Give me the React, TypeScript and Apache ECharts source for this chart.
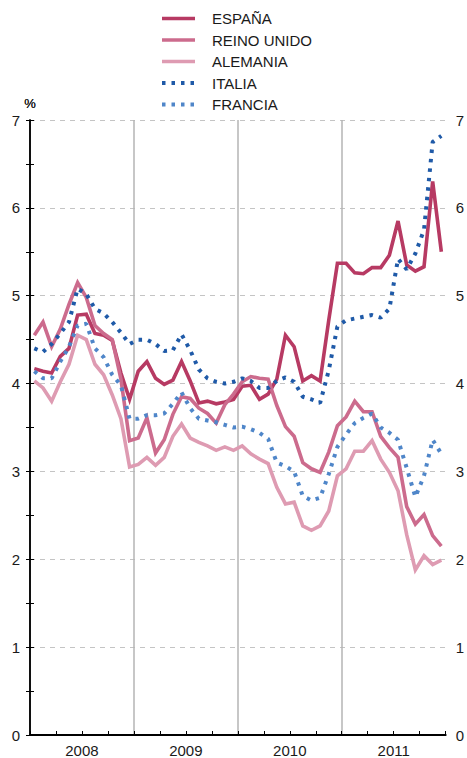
import React, { useEffect, useRef } from "react";
import * as echarts from "echarts";

const years = ["2008", "2009", "2010", "2011"];
const seriesNames = ["ESPAÑA", "REINO UNIDO", "ALEMANIA", "ITALIA", "FRANCIA"];

// monthly values Jan 2008 - Dec 2011 (%)
const espana = [
  4.17, 4.14, 4.12, 4.31, 4.40, 4.78, 4.79, 4.57, 4.55, 4.49, 4.12, 3.82,
  4.14, 4.25, 4.06, 3.99, 4.04, 4.25, 4.03, 3.78, 3.80, 3.77, 3.79, 3.82,
  3.97, 3.98, 3.82, 3.88, 4.05, 4.55, 4.42, 4.03, 4.09, 4.03, 4.72, 5.37,
  5.37, 5.26, 5.25, 5.32, 5.32, 5.46, 5.85, 5.35, 5.28, 5.33, 6.30, 5.50,
];
const reinoUnido = [
  4.55, 4.70, 4.42, 4.62, 4.90, 5.15, 4.98, 4.66, 4.57, 4.50, 4.05, 3.35,
  3.38, 3.61, 3.21, 3.36, 3.65, 3.85, 3.83, 3.72, 3.66, 3.55, 3.76, 3.88,
  4.02, 4.08, 4.06, 4.05, 3.75, 3.51, 3.40, 3.10, 3.03, 2.99, 3.22, 3.52,
  3.62, 3.80, 3.68, 3.68, 3.40, 3.27, 3.16, 2.60, 2.40, 2.51, 2.27, 2.15,
];
const alemania = [
  4.03, 3.95, 3.80, 4.02, 4.22, 4.55, 4.50, 4.22, 4.10, 3.87, 3.60, 3.05,
  3.08, 3.16, 3.07, 3.16, 3.40, 3.54, 3.38, 3.33, 3.29, 3.24, 3.28, 3.24,
  3.29, 3.20, 3.14, 3.09, 2.82, 2.63, 2.65, 2.38, 2.33, 2.38, 2.55, 2.95,
  3.03, 3.23, 3.23, 3.35, 3.14, 2.99, 2.78, 2.28, 1.88, 2.04, 1.94, 1.99,
];
const italia = [
  4.40, 4.36, 4.45, 4.57, 4.70, 5.08, 5.02, 4.85, 4.80, 4.70, 4.58, 4.45,
  4.50, 4.50, 4.45, 4.37, 4.38, 4.56, 4.38, 4.16, 4.06, 4.02, 4.00, 4.02,
  4.06, 4.03, 3.95, 3.95, 4.03, 4.07, 4.02, 3.85, 3.82, 3.78, 4.15, 4.65,
  4.72, 4.74, 4.76, 4.78, 4.75, 4.85, 5.42, 5.30, 5.48, 5.75, 6.75, 6.82,
];
const francia = [
  4.14, 4.06, 4.06, 4.25, 4.42, 4.66, 4.68, 4.40, 4.30, 4.10, 3.98, 3.60,
  3.60, 3.64, 3.64, 3.66, 3.77, 3.90, 3.72, 3.60, 3.58, 3.56, 3.53, 3.50,
  3.51, 3.48, 3.44, 3.37, 3.10, 3.06, 3.00, 2.72, 2.67, 2.70, 2.97, 3.28,
  3.42, 3.55, 3.61, 3.66, 3.50, 3.44, 3.36, 3.04, 2.71, 2.95, 3.36, 3.20,
];

const FONT = "Liberation Sans, Arial, Helvetica, sans-serif";
const TXT = "#1a1a1a";

const toPoints = (arr: number[]) => arr.map((v, i) => [i + 0.5, v]);

export default function App() {
  const ref = useRef<HTMLDivElement>(null);
  useEffect(() => {
    if (!ref.current) return;
    const chart = echarts.init(ref.current, null, { renderer: "svg" });

    const yAxisBase = (position: "left" | "right") => ({
      type: "value",
      position,
      min: 0,
      max: 7,
      interval: 1,
      name: "%",
      nameLocation: "end",
      nameGap: 10,
      nameTextStyle: {
        fontSize: 13,
        fontWeight: "normal",
        color: TXT,
        fontFamily: FONT,
        align: "center",
        padding: 0,
      },
      axisLine: { show: true, lineStyle: { color: "#000", width: 1.5 } },
      axisTick: { show: true, inside: true, length: 4, lineStyle: { color: "#000", width: 1 } },
      minorTick: { show: true, splitNumber: 2, length: 4, lineStyle: { color: "#000", width: 1 } },
      splitLine: {
        show: position === "left",
        lineStyle: { color: "#c4c4c4", width: 1, type: [5, 5] },
      },
      axisLabel: { margin: 10, fontSize: 15, color: TXT, fontFamily: FONT },
    });

    const solid = (name: string, data: number[], color: string) => ({
      name,
      type: "line",
      data: toPoints(data),
      symbol: "none",
      xAxisIndex: 0,
      yAxisIndex: 0,
      lineStyle: { color, width: 3.6, join: "miter" },
      itemStyle: { color },
    });
    const dotted = (name: string, data: number[], color: string) => ({
      name,
      type: "line",
      data: toPoints(data),
      symbol: "none",
      xAxisIndex: 0,
      yAxisIndex: 0,
      lineStyle: { color, width: 4, type: [3.5, 6], cap: "butt" },
      itemStyle: { color },
    });

    chart.setOption({
      animation: false,
      backgroundColor: "#fff",
      grid: { left: 30, right: 19, top: 120, bottom: 19 },
      legend: {
        orient: "vertical",
        left: 155,
        top: 6,
        itemWidth: 33,
        itemHeight: 15,
        itemGap: 6.5,
        data: seriesNames,
        itemStyle: { opacity: 0 },
        lineStyle: { width: "inherit" },
        textStyle: { fontSize: 15, color: TXT, fontFamily: FONT, lineHeight: 15, padding: [0, 0, 0, 12] },
      },
      xAxis: [
        {
          type: "value",
          min: 0,
          max: 48,
          interval: 3,
          position: "bottom",
          axisLine: { show: true, onZero: false, lineStyle: { color: "#000", width: 2 } },
          axisTick: { show: true, inside: true, length: 4, lineStyle: { color: "#000", width: 1 } },
          splitLine: { show: false },
          axisLabel: {
            margin: 8,
            fontSize: 15,
            color: TXT,
            fontFamily: FONT,
            showMinLabel: true,
            showMaxLabel: true,
            formatter: (v: number) => (v % 12 === 6 ? years[Math.floor(v / 12)] : ""),
          },
        },
        {
          type: "value",
          min: 0,
          max: 48,
          interval: 12,
          position: "bottom",
          axisLine: { show: false },
          axisTick: { show: false },
          axisLabel: { show: false },
          splitLine: {
            show: true,
            showMinLine: false,
            showMaxLine: false,
            lineStyle: { color: "#b5b5b5", width: 1.5 },
          },
        },
      ],
      yAxis: [yAxisBase("left"), yAxisBase("right")],
      series: [
        solid(seriesNames[0], espana, "#b73a63"),
        solid(seriesNames[1], reinoUnido, "#cc6b8d"),
        solid(seriesNames[2], alemania, "#de9bb2"),
        dotted(seriesNames[3], italia, "#1f5aa8"),
        dotted(seriesNames[4], francia, "#4f86c9"),
      ],
    });
    return () => chart.dispose();
  }, []);

  return <div ref={ref} style={{ width: 467, height: 758, position: "absolute", left: 0, top: 0 }} />;
}
